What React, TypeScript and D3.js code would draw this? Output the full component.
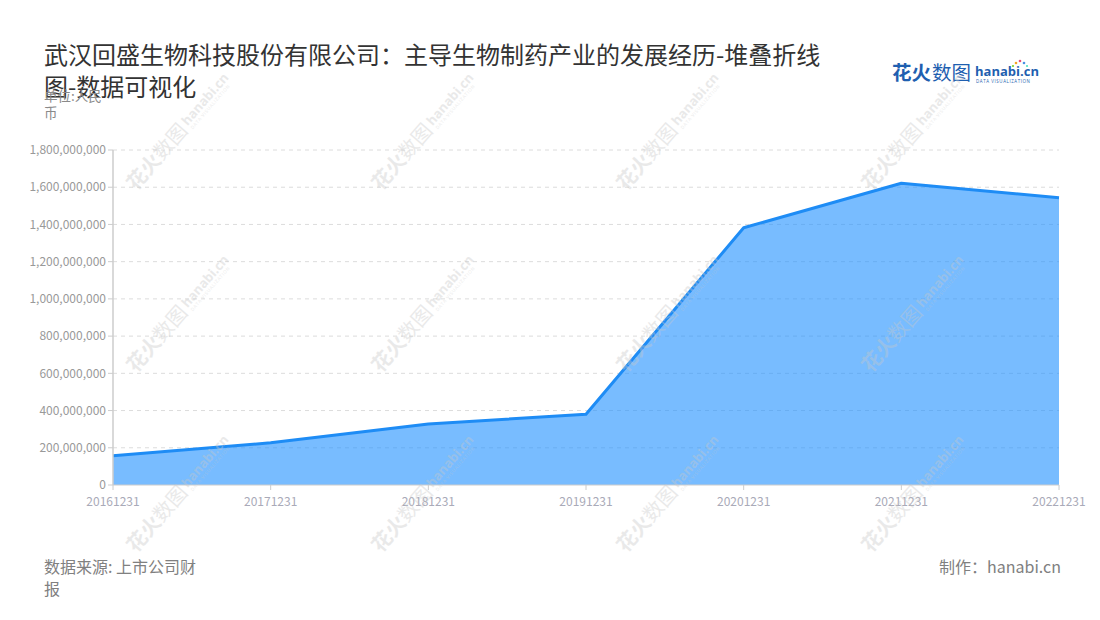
import React from "react";
import * as d3 from "d3";

const categories = ["20161231", "20171231", "20181231", "20191231", "20201231", "20211231", "20221231"];
const values = [157000000, 227000000, 328000000, 380000000, 1382000000, 1621000000, 1544000000];
const yTickValues = [0, 200000000, 400000000, 600000000, 800000000, 1000000000, 1200000000, 1400000000, 1600000000, 1800000000];
const titleLines = ["武汉回盛生物科技股份有限公司：主导生物制药产业的发展经历-堆叠折线", "图-数据可视化"];
const unitLines = ["单位:人民", "币"];
const sourceLines = ["数据来源: 上市公司财", "报"];
const credit = "制作：hanabi.cn";

const W = 1100;
const H = 620;
const left = 113;
const right = 1059;
const top = 150;
const bottom = 485;

const font = "'Noto Sans CJK SC', 'Noto Sans', sans-serif";
const latin = "'Open Sans', 'Noto Sans', sans-serif";

function Watermark({ x, y }: { x: number; y: number }) {
  return (
    <g transform={`translate(${x},${y}) rotate(-49)`} style={{ pointerEvents: "none" }} fill="#c8c8c8" opacity={0.38}>
      <text x={-78} y={7} fontSize={20} fontWeight={700} fontFamily={font}>花火</text>
      <text x={-38} y={7} fontSize={20} fontFamily={font}>数图</text>
      <text x={5} y={3} fontSize={13} fontWeight={700} fontFamily={latin}>hanabi.cn</text>
      <text x={6} y={9} fontSize={4.5} fontFamily={latin} letterSpacing={0.7}>DATA VISUALIZATION</text>
    </g>
  );
}

export default function App() {
  const x = d3.scalePoint<string>().domain(categories).range([left, right]);
  const y = d3.scaleLinear().domain([0, 1800000000]).range([bottom, top]);
  const pts = categories.map((c, i) => ({ c, v: values[i] }));
  const area = d3
    .area<{ c: string; v: number }>()
    .x((d) => x(d.c) as number)
    .y0(y(0))
    .y1((d) => y(d.v));
  const line = d3
    .line<{ c: string; v: number }>()
    .x((d) => x(d.c) as number)
    .y((d) => y(d.v));
  const fmt = d3.format(",");

  const wmCols = [182, 427, 672, 917];
  const wmRows = [128, 310, 490];

  return (
    <svg
      width={W}
      height={H}
      style={{ position: "absolute", left: 0, top: 0, background: "#fff" }}
      fontFamily={font}
    >
      {/* title */}
      {titleLines.map((t, i) => (
        <text key={i} x={44} y={64 + i * 32} fontSize={24} fill="#333">
          {t}
        </text>
      ))}
      {unitLines.map((t, i) => (
        <text key={i} x={44} y={101 + i * 17} fontSize={13.5} fill="#8a8a8a">
          {t}
        </text>
      ))}

      {/* logo */}
      <g>
        <text x={892} y={80} fontSize={19.5} fontWeight={700} fill="#1f5fb0">花火</text>
        <text x={932} y={80} fontSize={19.5} fill="#1f5fb0">数图</text>
        <text x={975} y={76} fontSize={13} fontWeight={700} fill="#1f5fb0" fontFamily={latin}>hanabi.cn</text>
        <text x={976} y={83} fontSize={4.4} fill="#1f5fb0" fontFamily={latin} letterSpacing={0.6}>DATA VISUALIZATION</text>
        <circle cx={1016} cy={63} r={1.3} fill="#f5a623" />
        <circle cx={1020} cy={61} r={1.3} fill="#e94e77" />
        <circle cx={1024} cy={63} r={1.3} fill="#4a90e2" />
        <circle cx={1013} cy={66} r={1.1} fill="#7ed321" />
        <circle cx={1027} cy={66} r={1.1} fill="#50e3c2" />
      </g>

      {/* gridlines */}
      {yTickValues.map((t) =>
        t === 0 ? null : (
          <line key={t} x1={left} x2={right} y1={y(t)} y2={y(t)} stroke="#dcdcdc" strokeDasharray="4 4" strokeWidth={1} />
        )
      )}

      {/* area and line */}
      <path d={area(pts) as string} fill="#1e90ff" fillOpacity={0.6} />
      <path d={line(pts) as string} fill="none" stroke="#1e8cf5" strokeWidth={3} strokeLinejoin="round" />

      {/* y axis */}
      <line x1={left} x2={left} y1={top} y2={bottom} stroke="#ccc" strokeWidth={1.5} />
      {yTickValues.map((t) => (
        <g key={t}>
          <line x1={left - 5} x2={left} y1={y(t)} y2={y(t)} stroke="#ccc" />
          <text x={left - 7} y={y(t)} dy="0.35em" textAnchor="end" fontSize={12} fill="#999">
            {fmt(t)}
          </text>
        </g>
      ))}

      {/* x axis */}
      <line x1={left} x2={right} y1={bottom} y2={bottom} stroke="#ccc" strokeWidth={1} />
      {categories.map((c) => (
        <g key={c}>
          <line x1={x(c) as number} x2={x(c) as number} y1={bottom} y2={bottom + 5} stroke="#ccc" />
          <text x={x(c) as number} y={506} textAnchor="middle" fontSize={12} fill="#a9aab8">
            {c}
          </text>
        </g>
      ))}

      {/* watermarks */}
      {wmRows.map((ry) => wmCols.map((cx) => <Watermark key={`${cx}-${ry}`} x={cx} y={ry} />))}

      {/* footer */}
      {sourceLines.map((t, i) => (
        <text key={i} x={44} y={573 + i * 22} fontSize={16} fill="#808080">
          {t}
        </text>
      ))}
      <text x={1061} y={573} textAnchor="end" fontSize={16} fill="#808080">
        {credit}
      </text>
    </svg>
  );
}
